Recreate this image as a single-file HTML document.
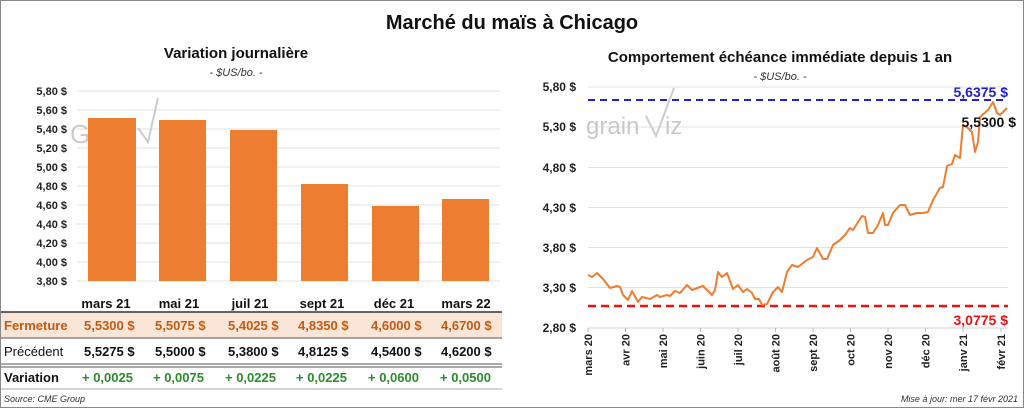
<!DOCTYPE html>
<html><head><meta charset="utf-8"><style>
body{margin:0;background:#fff;}
svg{display:block;font-family:"Liberation Sans",sans-serif;}
.b{font-weight:bold}
</style></head><body>
<svg width="1024" height="408" viewBox="0 0 1024 408" xmlns="http://www.w3.org/2000/svg">
<rect x="0.5" y="0.5" width="1023" height="407" fill="#fff" stroke="#888"/>
<text x="512" y="29" text-anchor="middle" font-size="20" class="b" fill="#111">Marché du maïs à Chicago</text>
<!-- left chart -->
<text x="236" y="58" text-anchor="middle" font-size="15" class="b" fill="#111">Variation  journalière</text>
<text x="236" y="76" text-anchor="middle" font-size="11" font-style="italic" fill="#333">- $US/bo. -</text>
<g stroke="#e2e2e2" stroke-width="1">
<line x1="77" x2="500" y1="91" y2="91"/><line x1="77" x2="500" y1="110" y2="110"/><line x1="77" x2="500" y1="129" y2="129"/><line x1="77" x2="500" y1="148" y2="148"/><line x1="77" x2="500" y1="167" y2="167"/><line x1="77" x2="500" y1="186" y2="186"/><line x1="77" x2="500" y1="205" y2="205"/><line x1="77" x2="500" y1="224" y2="224"/><line x1="77" x2="500" y1="243" y2="243"/><line x1="77" x2="500" y1="262" y2="262"/><line x1="77" x2="500" y1="281" y2="281"/>
</g>
<g font-size="11" class="b" fill="#222" text-anchor="end">
<text x="67" y="95">5,80 $</text><text x="67" y="114">5,60 $</text><text x="67" y="133">5,40 $</text><text x="67" y="152">5,20 $</text><text x="67" y="171">5,00 $</text><text x="67" y="190">4,80 $</text><text x="67" y="209">4,60 $</text><text x="67" y="228">4,40 $</text><text x="67" y="247">4,20 $</text><text x="67" y="266">4,00 $</text><text x="67" y="285">3,80 $</text>
</g>
<text x="70" y="143" font-size="26" fill="#ccc">Gr</text>
<polyline points="138,128 148,142 158,98" fill="none" stroke="#ccc" stroke-width="2"/>
<g fill="#ed7d31">
<rect x="88" y="118" width="48" height="163"/><rect x="159" y="120" width="47" height="161"/><rect x="230" y="130" width="47" height="151"/><rect x="301" y="184" width="47" height="97"/><rect x="372" y="206" width="47" height="75"/><rect x="442" y="199" width="47" height="82"/>
</g>
<g font-size="13" class="b" fill="#111" text-anchor="middle">
<text x="106" y="308">mars 21</text><text x="179" y="308">mai 21</text><text x="250" y="308">juil 21</text><text x="322" y="308">sept 21</text><text x="394" y="308">déc 21</text><text x="466" y="308">mars 22</text>
</g>
<rect x="1" y="312" width="501" height="26" fill="#fbe5d6"/>
<line x1="1" x2="502" y1="312" y2="312" stroke="#333" stroke-width="1.5"/>
<line x1="1" x2="502" y1="338" y2="338" stroke="#555" stroke-width="1"/>
<line x1="1" x2="502" y1="364" y2="364" stroke="#555" stroke-width="1"/>
<line x1="1" x2="502" y1="367" y2="367" stroke="#555" stroke-width="1"/>
<line x1="1" x2="502" y1="389" y2="389" stroke="#aaa" stroke-width="1"/>
<g font-size="13" class="b" fill="#c55a11">
<text x="4" y="330">Fermeture</text>
<text x="84" y="330">5,5300  $</text><text x="155" y="330">5,5075  $</text><text x="228" y="330">5,4025  $</text><text x="298" y="330">4,8350  $</text><text x="371" y="330">4,6000  $</text><text x="441" y="330">4,6700  $</text>
</g>
<g font-size="13" fill="#111">
<text x="4" y="356">Précédent</text>
<g class="b"><text x="84" y="356">5,5275  $</text><text x="155" y="356">5,5000  $</text><text x="228" y="356">5,3800  $</text><text x="298" y="356">4,8125  $</text><text x="371" y="356">4,5400  $</text><text x="441" y="356">4,6200  $</text></g>
</g>
<text x="4" y="382" font-size="13" class="b" fill="#111">Variation</text>
<g font-size="13" class="b" fill="#2e8b2e">
<text x="82" y="382">+ 0,0025</text><text x="153" y="382">+ 0,0075</text><text x="225" y="382">+ 0,0225</text><text x="296" y="382">+ 0,0225</text><text x="368" y="382">+ 0,0600</text><text x="440" y="382">+ 0,0500</text>
</g>
<text x="4" y="402" font-size="9" font-style="italic" fill="#333">Source: CME Group</text>
<!-- right chart -->
<text x="780" y="62" text-anchor="middle" font-size="15" class="b" fill="#111">Comportement  échéance immédiate depuis 1 an</text>
<text x="780" y="80" text-anchor="middle" font-size="11" font-style="italic" fill="#333">- $US/bo. -</text>
<g stroke="#e2e2e2"><line x1="588" x2="1008" y1="87" y2="87"/><line x1="588" x2="1008" y1="127" y2="127"/><line x1="588" x2="1008" y1="167.5" y2="167.5"/><line x1="588" x2="1008" y1="207.5" y2="207.5"/><line x1="588" x2="1008" y1="247.5" y2="247.5"/><line x1="588" x2="1008" y1="287.5" y2="287.5"/></g>
<line x1="588" x2="1008" y1="328" y2="328" stroke="#d0d0d0"/>
<g font-size="12" class="b" fill="#222" text-anchor="end">
<text x="576" y="91">5,80 $</text><text x="576" y="131">5,30 $</text><text x="576" y="172">4,80 $</text><text x="576" y="212">4,30 $</text><text x="576" y="252">3,80 $</text><text x="576" y="292">3,30 $</text><text x="576" y="332">2,80 $</text>
</g>
<text x="586" y="134" font-size="24" fill="#c8c8c8">grain</text>
<polyline points="646,116 656,136 674,88" fill="none" stroke="#ccc" stroke-width="2"/>
<text x="665" y="134" font-size="24" fill="#c8c8c8">iz</text>
<line x1="588" x2="1008" y1="100" y2="100" stroke="#2222cc" stroke-width="2" stroke-dasharray="7,5"/>
<line x1="588" x2="1008" y1="306" y2="306" stroke="#ee1111" stroke-width="2.5" stroke-dasharray="8,5"/>
<polyline fill="none" stroke="#ed7d31" stroke-width="2" stroke-linejoin="round" points="588,275 592,277 597,273 603,279 610,288 617,286 620,287 623,295 628,300 632,291 638,302 642,297 650,299 657,295 660,297 667,295 670,296 675,291 680,293 687,285 692,290 703,286 712,295 715,290 718,272 722,277 727,273 733,289 738,285 743,292 747,289 752,293 755,299 759,299 762,305 767,304 773,292 778,287 782,292 787,272 792,265 798,267 807,260 813,257 817,248 823,259 827,259 833,245 840,240 845,235 850,228 853,230 862,216 865,217 868,233 873,233 878,225 883,213 885,225 888,225 893,213 900,205 905,205 910,215 917,213 923,213 928,212 933,200 940,188 943,187 947,166 952,164 955,155 960,158 963,125 968,128 972,132 975,152 978,142 980,117 988,110 993,102 997,113 1000,115 1007,108"/>
<text x="1008" y="97" text-anchor="end" font-size="14" class="b" fill="#2222cc">5,6375 $</text>
<text x="1016" y="127" text-anchor="end" font-size="14" class="b" fill="#111">5,5300 $</text>
<text x="1008" y="325" text-anchor="end" font-size="14" class="b" fill="#ee1111">3,0775 $</text>
<g stroke="#bbb"><line x1="588" x2="588" y1="328" y2="332"/><line x1="625.5" x2="625.5" y1="328" y2="332"/><line x1="663" x2="663" y1="328" y2="332"/><line x1="700.5" x2="700.5" y1="328" y2="332"/><line x1="738" x2="738" y1="328" y2="332"/><line x1="775.5" x2="775.5" y1="328" y2="332"/><line x1="813" x2="813" y1="328" y2="332"/><line x1="850.5" x2="850.5" y1="328" y2="332"/><line x1="888" x2="888" y1="328" y2="332"/><line x1="925.5" x2="925.5" y1="328" y2="332"/><line x1="963" x2="963" y1="328" y2="332"/><line x1="1001" x2="1001" y1="328" y2="332"/></g>
<g font-size="11" class="b" fill="#222" text-anchor="end">
<text transform="translate(592,334) rotate(-90)">mars 20</text>
<text transform="translate(629.5,334) rotate(-90)">avr 20</text>
<text transform="translate(667,334) rotate(-90)">mai 20</text>
<text transform="translate(704.5,334) rotate(-90)">juin 20</text>
<text transform="translate(742,334) rotate(-90)">juil 20</text>
<text transform="translate(779.5,334) rotate(-90)">août 20</text>
<text transform="translate(817,334) rotate(-90)">sept 20</text>
<text transform="translate(854.5,334) rotate(-90)">oct 20</text>
<text transform="translate(892,334) rotate(-90)">nov 20</text>
<text transform="translate(929.5,334) rotate(-90)">déc 20</text>
<text transform="translate(967,334) rotate(-90)">janv 21</text>
<text transform="translate(1005,334) rotate(-90)">févr 21</text>
</g>
<text x="1018" y="402" text-anchor="end" font-size="9" font-style="italic" fill="#333">Mise à jour: mer 17 févr 2021</text>
</svg>
</body></html>
